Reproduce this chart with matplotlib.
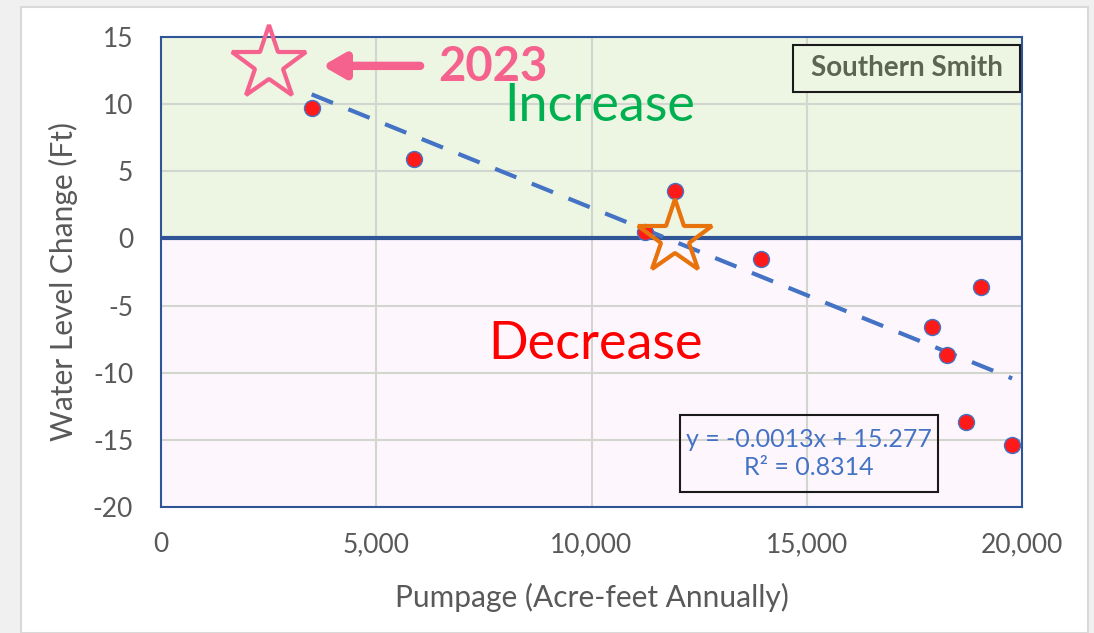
import matplotlib
matplotlib.use("Agg")
import matplotlib.pyplot as plt
from matplotlib.patches import Rectangle
from matplotlib.ticker import FuncFormatter, MultipleLocator
import numpy as np

plt.rcParams['font.family'] = ['Lato', 'DejaVu Sans']
plt.rcParams['axes.unicode_minus'] = False

# Pumpage vs water level change
pumpage = [3500, 5880, 11240, 11940, 13940, 17910, 18260, 18700, 19050, 19770]
level_change = [9.7, 5.9, 0.5, 3.5, -1.5, -6.6, -8.7, -13.7, -3.6, -15.4]

# Linear trend (as printed on the chart)
slope = -0.0013
intercept = 15.277
r_squared = 0.8314

# 2023 markers
star_2023 = (2500, 13.0)
star_current = (11940, 0.0)

PINK = '#F5628E'
BLUE = '#4472C4'
NAVY = '#2F5597'
GREEN_BG = '#EDF6E3'

fig = plt.figure(figsize=(10.94, 6.33), dpi=100, facecolor='#F0F0F0')
# white card behind the chart
fig.patches.append(Rectangle((21 / 1094, 0), 1067 / 1094, 626 / 633,
                             transform=fig.transFigure, facecolor='white',
                             edgecolor='#D9D9D9', lw=1.5, zorder=-5))

ax = fig.add_axes([161 / 1094, 1 - 507 / 633, 861 / 1094, 470 / 633])
ax.set_zorder(2)
ax.set_xlim(0, 20000)
ax.set_ylim(-20, 15)

ax.axhspan(0, 15, color=GREEN_BG, zorder=0)
ax.axhspan(-20, 0, color='#FDF7FD', zorder=0)
ax.xaxis.set_major_locator(MultipleLocator(5000))
ax.yaxis.set_major_locator(MultipleLocator(5))
ax.grid(True, color='#D3D6CF', lw=1.5, zorder=1)
ax.xaxis.set_major_formatter(FuncFormatter(lambda v, p: f"{int(v):,}"))
ax.tick_params(length=0, labelsize=19, labelcolor='#595959')
ax.tick_params(axis='y', pad=20)
ax.tick_params(axis='x', pad=18)
for s in ax.spines.values():
    s.set_color(NAVY)
    s.set_linewidth(1.5)
ax.axhline(0, color=NAVY, lw=3, zorder=2)

# trend line over data range
xs = np.array([min(pumpage), max(pumpage)])
ax.plot(xs, slope * xs + intercept, ls=(0, (5.5, 4)), color=BLUE, lw=3, zorder=3)

ax.plot(pumpage, level_change, 'o', ms=11.5, mfc='#FF1A1A', mec=BLUE, mew=1, zorder=4)

ax.plot(*star_2023, marker='*', ms=56, mfc='none', mec=PINK, mew=3, zorder=5, clip_on=False)
ax.plot(*star_current, marker='*', ms=56, mfc='none', mec='#E8720C', mew=3, zorder=5)

ax.annotate('', xy=(3750, 12.85), xytext=(6020, 12.85),
            arrowprops=dict(arrowstyle='-|>,head_length=1.3,head_width=0.75',
                            color=PINK, lw=6, shrinkA=0, shrinkB=0), zorder=5)
ax.text(6450, 12.8, '2023', color=PINK, fontsize=34, fontweight='bold',
        ha='left', va='center', zorder=5)

ax.text(10200, 9.8, 'Increase', color='#00B050', fontsize=37.5, ha='center', va='center', zorder=5)
ax.text(10100, -7.9, 'Decrease', color='#FF0000', fontsize=37.5, ha='center', va='center', zorder=5)

# "Southern Smith" label box
ax.add_patch(Rectangle((0.734, 0.883), 0.2637, 0.100, transform=ax.transAxes,
                       fc=GREEN_BG, ec='#1A1A1A', lw=1.5, zorder=6))
ax.text(0.866, 0.933, 'Southern Smith', transform=ax.transAxes, fontsize=20,
        fontweight='bold', color='#5A6653', ha='center', va='center', zorder=7)

# trendline equation box
ax.add_patch(Rectangle((0.6028, 0.0319), 0.2996, 0.1638, transform=ax.transAxes,
                       fc='none', ec='#1A1A1A', lw=1.5, zorder=6))
ax.text(0.7526, 0.114, f"y = {slope}x + {intercept}\nR² = {r_squared}",
        transform=ax.transAxes, fontsize=18, color=BLUE, ha='center',
        va='center', linespacing=1.25, zorder=7)

ax.set_xlabel('Pumpage (Acre-feet Annually)', fontsize=21.5, color='#595959')
ax.set_ylabel('Water Level Change (Ft)', fontsize=21.5, color='#595959')
ax.xaxis.set_label_coords(0.5, -0.162)
ax.yaxis.set_label_coords(-0.0964, 0.48)

fig.savefig('out.png', dpi=100, facecolor=fig.get_facecolor())
